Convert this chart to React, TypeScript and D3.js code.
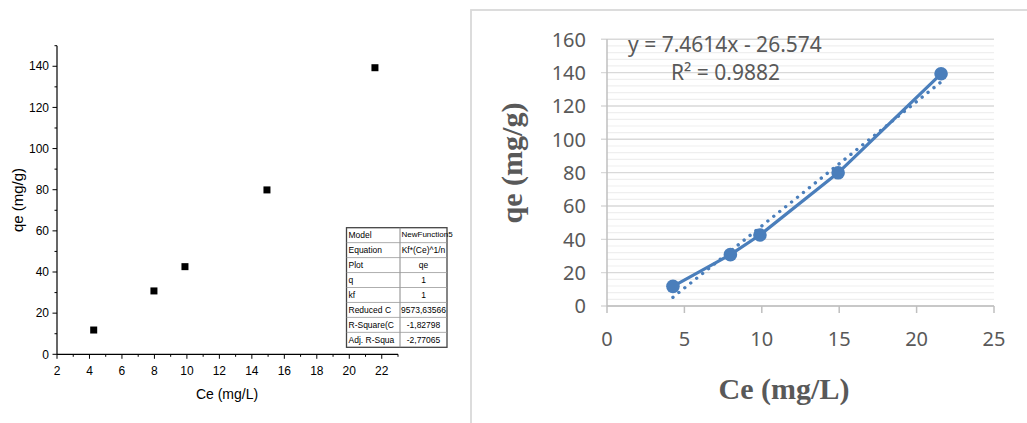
import React from 'react';
import * as d3 from 'd3';

// ---- data ----
const ceValues = [4.26, 7.97, 9.88, 14.93, 21.58];
const qeValues = [11.8, 30.8, 42.6, 79.9, 139.3];

const leftXTicks = [2, 4, 6, 8, 10, 12, 14, 16, 18, 20, 22];
const leftXMinor = [3, 5, 7, 9, 11, 13, 15, 17, 19, 21, 23];
const leftYTicks = [0, 20, 40, 60, 80, 100, 120, 140];
const leftYMinor = [10, 30, 50, 70, 90, 110, 130, 150];

const rightXTicks = [0, 5, 10, 15, 20, 25];
const rightYTicks = [0, 20, 40, 60, 80, 100, 120, 140, 160];
const rightYMinor = [4, 8, 12, 16, 24, 28, 32, 36, 44, 48, 52, 56, 64, 68, 72, 76, 84, 88, 92, 96, 104, 108, 112, 116, 124, 128, 132, 136, 144, 148, 152, 156];

const trendSlope = 7.4614;
const trendIntercept = -26.574;
const equationText = 'y = 7.4614x - 26.574';
const r2Text = 'R² = 0.9882';

const tableLabels = ['Model', 'Equation', 'Plot', 'q', 'kf', 'Reduced C', 'R-Square(C', 'Adj. R-Squa'];
const tableValues = ['NewFunction5', 'Kf*(Ce)^1/n', 'qe', '1', '1', '9573,63566', '-1,82798', '-2,77065'];

const W = 1027;
const H = 423;

export default function App() {
  // Left (Origin-style) chart
  const xL = d3.scaleLinear().domain([2, 23]).range([57, 398]);
  const yL = d3.scaleLinear().domain([0, 150]).range([354.3, 45.7]);
  const arial = '"Liberation Sans", Arial, sans-serif';

  // Right (Excel-style) chart
  const xR = d3.scaleLinear().domain([0, 25]).range([607, 994]);
  const yR = d3.scaleLinear().domain([0, 160]).range([306, 39.3]);
  const calibri = '"Noto Sans", "Open Sans", sans-serif';
  const grey = '#595959';
  const blue = '#4a7ebb';

  const pts = ceValues.map((c, i) => [c, qeValues[i]] as [number, number]);
  const seriesLine = d3
    .line<[number, number]>()
    .x((d) => xR(d[0]))
    .y((d) => yR(d[1]))
    .curve(d3.curveLinear)(pts);

  const xMin = d3.min(ceValues)!;
  const xMax = d3.max(ceValues)!;
  const trend: [number, number][] = [
    [xMin, trendSlope * xMin + trendIntercept],
    [xMax, trendSlope * xMax + trendIntercept],
  ];
  const trendPath = d3
    .line<[number, number]>()
    .x((d) => xR(d[0]))
    .y((d) => yR(d[1]))(trend);

  // table geometry
  const tX0 = 346.5;
  const tX1 = 400;
  const tX2 = 447;
  const tY0 = 227.7;
  const rowH = 14.95;

  return (
    <svg
      width={W}
      height={H}
      style={{ position: 'absolute', left: 0, top: 0, background: '#fff' }}
    >
      <rect x={0} y={0} width={W} height={H} fill="#fff" />

      {/* ---------- LEFT CHART ---------- */}
      <g>
        {/* axes */}
        <line x1={xL(2)} x2={xL(23)} y1={yL(0)} y2={yL(0)} stroke="#000" strokeWidth={1.2} />
        <line x1={xL(2)} x2={xL(2)} y1={yL(0)} y2={yL(150)} stroke="#000" strokeWidth={1.2} />
        {leftXTicks.map((t) => (
          <g key={'lx' + t}>
            <line x1={xL(t)} x2={xL(t)} y1={yL(0)} y2={yL(0) + 4.5} stroke="#000" strokeWidth={1} />
            <text x={xL(t)} y={375} textAnchor="middle" fontFamily={arial} fontSize={12} fill="#000">
              {t}
            </text>
          </g>
        ))}
        {leftXMinor.map((t) => (
          <line key={'lxm' + t} x1={xL(t)} x2={xL(t)} y1={yL(0)} y2={yL(0) + 2.5} stroke="#000" strokeWidth={1} />
        ))}
        {leftYTicks.map((t) => (
          <g key={'ly' + t}>
            <line x1={xL(2) - 4.5} x2={xL(2)} y1={yL(t)} y2={yL(t)} stroke="#000" strokeWidth={1} />
            <text x={49} y={yL(t)} dy="0.35em" textAnchor="end" fontFamily={arial} fontSize={12} fill="#000">
              {t}
            </text>
          </g>
        ))}
        {leftYMinor.map((t) => (
          <line key={'lym' + t} x1={xL(2) - 2.5} x2={xL(2)} y1={yL(t)} y2={yL(t)} stroke="#000" strokeWidth={1} />
        ))}
        <text x={227} y={399} textAnchor="middle" fontFamily={arial} fontSize={14} fill="#000">
          Ce (mg/L)
        </text>
        <text
          transform={`translate(23,${200}) rotate(-90)`}
          textAnchor="middle"
          fontFamily={arial}
          fontSize={15}
          fill="#000"
        >
          qe (mg/g)
        </text>
        {pts.map((p, i) => (
          <rect key={'sq' + i} x={xL(p[0]) - 3.5} y={yL(p[1]) - 3.5} width={7} height={7} fill="#000" />
        ))}

        {/* stats table */}
        <rect x={tX0} y={tY0} width={tX2 - tX0} height={rowH * tableLabels.length} fill="#fff" stroke="#444" strokeWidth={1.3} />
        <line x1={tX1} x2={tX1} y1={tY0} y2={tY0 + rowH * tableLabels.length} stroke="#888" strokeWidth={1} />
        {tableLabels.map((lab, i) => (
          <g key={'row' + i}>
            {i > 0 && (
              <line x1={tX0} x2={tX2} y1={tY0 + rowH * i} y2={tY0 + rowH * i} stroke="#999" strokeWidth={0.8} />
            )}
            <text x={tX0 + 2} y={tY0 + rowH * i + rowH / 2} dy="0.36em" fontFamily={arial} fontSize={8.5} fill="#000">
              {lab}
            </text>
            <text
              x={i === 0 ? tX1 + 1.5 : (tX1 + tX2) / 2}
              y={tY0 + rowH * i + rowH / 2 - (i === 0 ? 1.5 : 0)}
              dy="0.36em"
              textAnchor={i === 0 ? 'start' : 'middle'}
              fontFamily={arial}
              fontSize={i === 0 ? 8 : 8.5}
              fill="#000"
            >
              {tableValues[i]}
            </text>
          </g>
        ))}
      </g>

      {/* ---------- RIGHT CHART ---------- */}
      <g>
        <rect x={471} y={10} width={600} height={450} fill="none" stroke="#d9d9d9" strokeWidth={1.8} />
        {/* minor gridlines */}
        {rightYMinor.map((t) => (
          <line key={'rym' + t} x1={xR(0)} x2={xR(25)} y1={yR(t)} y2={yR(t)} stroke="#efefef" strokeWidth={1.2} />
        ))}
        {/* major gridlines */}
        {rightYTicks.map((t) => (
          <line key={'ryg' + t} x1={xR(0) - 6} x2={xR(25)} y1={yR(t)} y2={yR(t)} stroke="#d9d9d9" strokeWidth={1.4} />
        ))}
        {/* axes */}
        <line x1={xR(0)} x2={xR(0)} y1={yR(160)} y2={yR(0)} stroke="#bfbfbf" strokeWidth={1.5} />
        <line x1={xR(0)} x2={xR(25)} y1={yR(0)} y2={yR(0)} stroke="#bfbfbf" strokeWidth={1.5} />
        {rightXTicks.map((t) => (
          <g key={'rx' + t}>
            <line x1={xR(t)} x2={xR(t)} y1={yR(0)} y2={yR(0) + 7} stroke="#bfbfbf" strokeWidth={1.5} />
            <text x={xR(t)} y={346} textAnchor="middle" fontFamily={calibri} fontSize={20} fill={grey}>
              {t}
            </text>
          </g>
        ))}
        {rightYTicks.map((t) => (
          <text key={'ry' + t} x={586} y={yR(t)} dy="0.36em" textAnchor="end" fontFamily={calibri} fontSize={20} fill={grey}>
            {t}
          </text>
        ))}

        {/* trendline (dotted) */}
        <path d={trendPath!} fill="none" stroke={blue} strokeWidth={3.4} strokeDasharray="0.01 7.6" strokeLinecap="round" />
        {/* series */}
        <path d={seriesLine!} fill="none" stroke={blue} strokeWidth={3.2} strokeLinecap="round" strokeLinejoin="round" />
        {pts.map((p, i) => (
          <circle key={'c' + i} cx={xR(p[0])} cy={yR(p[1])} r={6.8} fill={blue} />
        ))}

        {/* equation */}
        <text x={628} y={52} fontFamily={calibri} fontSize={21} fill={grey}>
          {equationText}
        </text>
        <text x={671} y={80} fontFamily={calibri} fontSize={21} fill={grey}>
          {r2Text}
        </text>

        {/* axis titles */}
        <text
          x={784}
          y={399}
          textAnchor="middle"
          fontFamily='"Liberation Serif", "Times New Roman", serif'
          fontWeight="bold"
          fontSize={30}
          fill={grey}
        >
          Ce (mg/L)
        </text>
        <text
          transform={`translate(522,${163}) rotate(-90)`}
          textAnchor="middle"
          fontFamily='"Liberation Serif", "Times New Roman", serif'
          fontWeight="bold"
          fontSize={30}
          fill={grey}
        >
          qe (mg/g)
        </text>
      </g>
    </svg>
  );
}
